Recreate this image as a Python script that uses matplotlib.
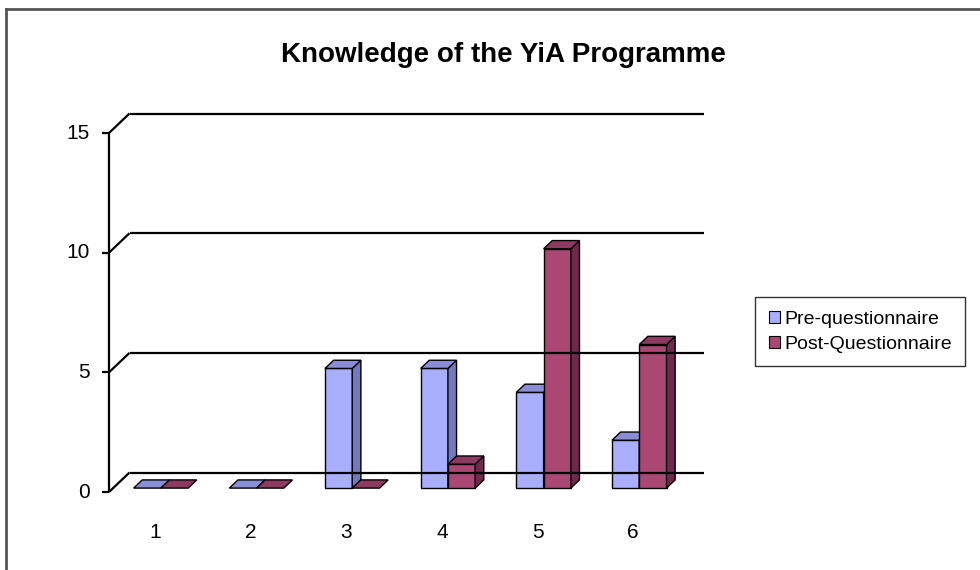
import matplotlib
matplotlib.use("Agg")
import matplotlib.pyplot as plt
from matplotlib.patches import Polygon, Patch
from matplotlib.lines import Line2D

plt.rcParams['font.family'] = ['Liberation Sans', 'DejaVu Sans']

categories = ['1', '2', '3', '4', '5', '6']
pre_values = [0, 0, 5, 5, 4, 2]
post_values = [0, 0, 0, 1, 10, 6]
series_names = ['Pre-questionnaire', 'Post-Questionnaire']
yticks = [0, 5, 10, 15]
title = 'Knowledge of the YiA Programme'

W, H = 980, 570
fig = plt.figure(figsize=(W / 100, H / 100), dpi=100)
fig.patch.set_facecolor('white')

# front plane of the 3D plot area
left_px, right_px, zero_px, top_px = 109, 683, 492, 133
ax = fig.add_axes([left_px / W, (H - zero_px) / H,
                   (right_px - left_px) / W, (zero_px - top_px) / H])
ax.set_xlim(0.5, len(categories) + 0.5)
ax.set_ylim(0, 15)
ax.axis('off')

# depth offset (in pixels) converted to data units via the axes transform
p0 = ax.transData.transform((0, 0))
px_x = ax.transData.transform((1, 0))[0] - p0[0]
px_y = ax.transData.transform((0, 1))[1] - p0[1]
DX = 20.5 / px_x
DY = 19.5 / px_y

xmin, xmax = ax.get_xlim()
line_kw = dict(color='black', lw=1.6, clip_on=False, solid_capstyle='butt')

# back wall gridlines and diagonals
for v in yticks:
    ax.plot([xmin + DX, xmax + DX], [v + DY, v + DY], **line_kw)
    ax.plot([xmin, xmin + DX], [v, v + DY], **line_kw)
    ax.plot([xmin - 0.07, xmin], [v, v], **line_kw)
    ax.text(xmin - 0.2, v, str(v), ha='right', va='center', fontsize=15)
# front vertical axis
ax.plot([xmin, xmin], [0, 15], **line_kw)

pre_cols = ('#AAAEFF', '#8A8ED6', '#7478BE')   # front, top, side
post_cols = ('#AA4873', '#8C3A60', '#70284C')

bw = 0.285
d0, d1 = 0.2, 0.62


def bar3d(x0, x1, h, cols):
    f, t, s = cols
    ox0, oy0 = DX * d0, DY * d0
    ox1, oy1 = DX * d1, DY * d1
    kw = dict(edgecolor='black', lw=1.0, clip_on=False, joinstyle='miter')
    if h > 0:
        ax.add_patch(Polygon([(x0 + ox0, oy0), (x1 + ox0, oy0),
                              (x1 + ox0, h + oy0), (x0 + ox0, h + oy0)],
                             facecolor=f, **kw))
        ax.add_patch(Polygon([(x1 + ox0, oy0), (x1 + ox1, oy1),
                              (x1 + ox1, h + oy1), (x1 + ox0, h + oy0)],
                             facecolor=s, **kw))
    ax.add_patch(Polygon([(x0 + ox0, h + oy0), (x1 + ox0, h + oy0),
                          (x1 + ox1, h + oy1), (x0 + ox1, h + oy1)],
                         facecolor=t, **kw))


for i, (a, b) in enumerate(zip(pre_values, post_values)):
    c = i + 1
    bar3d(c - bw, c, a, pre_cols)
    bar3d(c, c + bw, b, post_cols)
    ax.text(c - 0.02, -1.68, categories[i], ha='center', va='center', fontsize=15)

fig.text(503 / W, 1 - 55 / H, title, ha='center', va='center',
         fontsize=20, fontweight='bold')

handles = [Patch(facecolor=pre_cols[0], edgecolor='black', lw=0.8),
           Patch(facecolor=post_cols[0], edgecolor='black', lw=0.8)]
leg = fig.legend(handles, series_names, loc='upper left',
                 bbox_to_anchor=(755 / W, 1 - 297 / H), fontsize=14,
                 frameon=True, fancybox=False, handlelength=0.6,
                 handleheight=0.6, handletextpad=0.2, borderpad=0.7,
                 labelspacing=0.42, borderaxespad=0)
leg.get_frame().set_edgecolor('black')
leg.get_frame().set_linewidth(1.0)

# outer border (top and left edges visible)
fig.add_artist(Line2D([6 / W, 1], [1 - 9 / H, 1 - 9 / H], color='#555555', lw=2,
                      transform=fig.transFigure))
fig.add_artist(Line2D([6 / W, 6 / W], [0, 1 - 9 / H], color='#555555', lw=2,
                      transform=fig.transFigure))

fig.savefig('out.png', dpi=100, facecolor='white')
